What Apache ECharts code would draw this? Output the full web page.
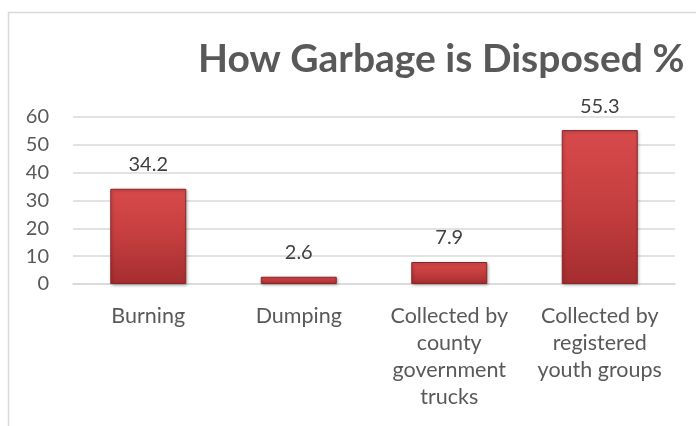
<!DOCTYPE html>
<html>
<head>
<meta charset="utf-8">
<script src="https://cdn.jsdelivr.net/npm/echarts@6/dist/echarts.min.js"></script>
<style>
  html, body { margin: 0; padding: 0; background: #fff; }
  #chart { width: 696px; height: 426px; }
</style>
</head>
<body>
<div id="chart"></div>
<script>
// data
const categories = [
  "Burning",
  "Dumping",
  "Collected by\ncounty\ngovernment\ntrucks",
  "Collected by\nregistered\nyouth groups"
];
const percents = [34.2, 2.6, 7.9, 55.3];
const yTicks = { min: 0, max: 60, interval: 10 };

const font = "Lato, 'Open Sans', sans-serif";

let chart = echarts.init(document.getElementById("chart"));
chart.setOption({
  backgroundColor: "#fff",
  animation: false,
  // light frame round the chart area
  graphic: [
    {
      type: "rect",
      shape: { x: 8.5, y: 12.5, width: 720, height: 440 },
      style: { fill: "none", stroke: "#d9d9d9", lineWidth: 1.5 }
    }
  ],
  title: {
    text: "How Garbage is Disposed %",
    left: 193,
    top: 35,
    textStyle: {
      color: "#595959",
      fontFamily: font,
      fontWeight: "bold",
      fontSize: 39
    }
  },
  grid: {
    left: 73,
    right: 21,
    top: 117,
    bottom: 142
  },
  xAxis: {
    type: "category",
    data: categories,
    axisLine: { lineStyle: { color: "#d9d9d9", width: 1.5 } },
    axisTick: { show: false },
    axisLabel: {
      color: "#595959",
      fontFamily: font,
      fontSize: 21.5,
      lineHeight: 27,
      margin: 19,
      interval: 0
    }
  },
  yAxis: {
    type: "value",
    min: yTicks.min,
    max: yTicks.max,
    interval: yTicks.interval,
    axisLine: { show: false },
    axisTick: { show: false },
    axisLabel: {
      color: "#595959",
      fontFamily: font,
      fontSize: 20,
      margin: 24
    },
    splitLine: { lineStyle: { color: "#d9d9d9", width: 1.5 } }
  },
  series: [
    {
      type: "bar",
      data: percents,
      barWidth: 76,
      itemStyle: {
        color: new echarts.graphic.LinearGradient(0, 0, 0, 1, [
          { offset: 0, color: "#d84a4b" },
          { offset: 0.5, color: "#c53e3f" },
          { offset: 1, color: "#a42d2f" }
        ]),
        borderColor: "#8e2426",
        borderWidth: 1,
        shadowColor: "rgba(0,0,0,0.3)",
        shadowBlur: 3,
        shadowOffsetX: 1,
        shadowOffsetY: 1
      },
      label: {
        show: true,
        position: "top",
        distance: 14,
        color: "#404040",
        fontFamily: font,
        fontSize: 20
      }
    }
  ]
});
</script>
</body>
</html>
